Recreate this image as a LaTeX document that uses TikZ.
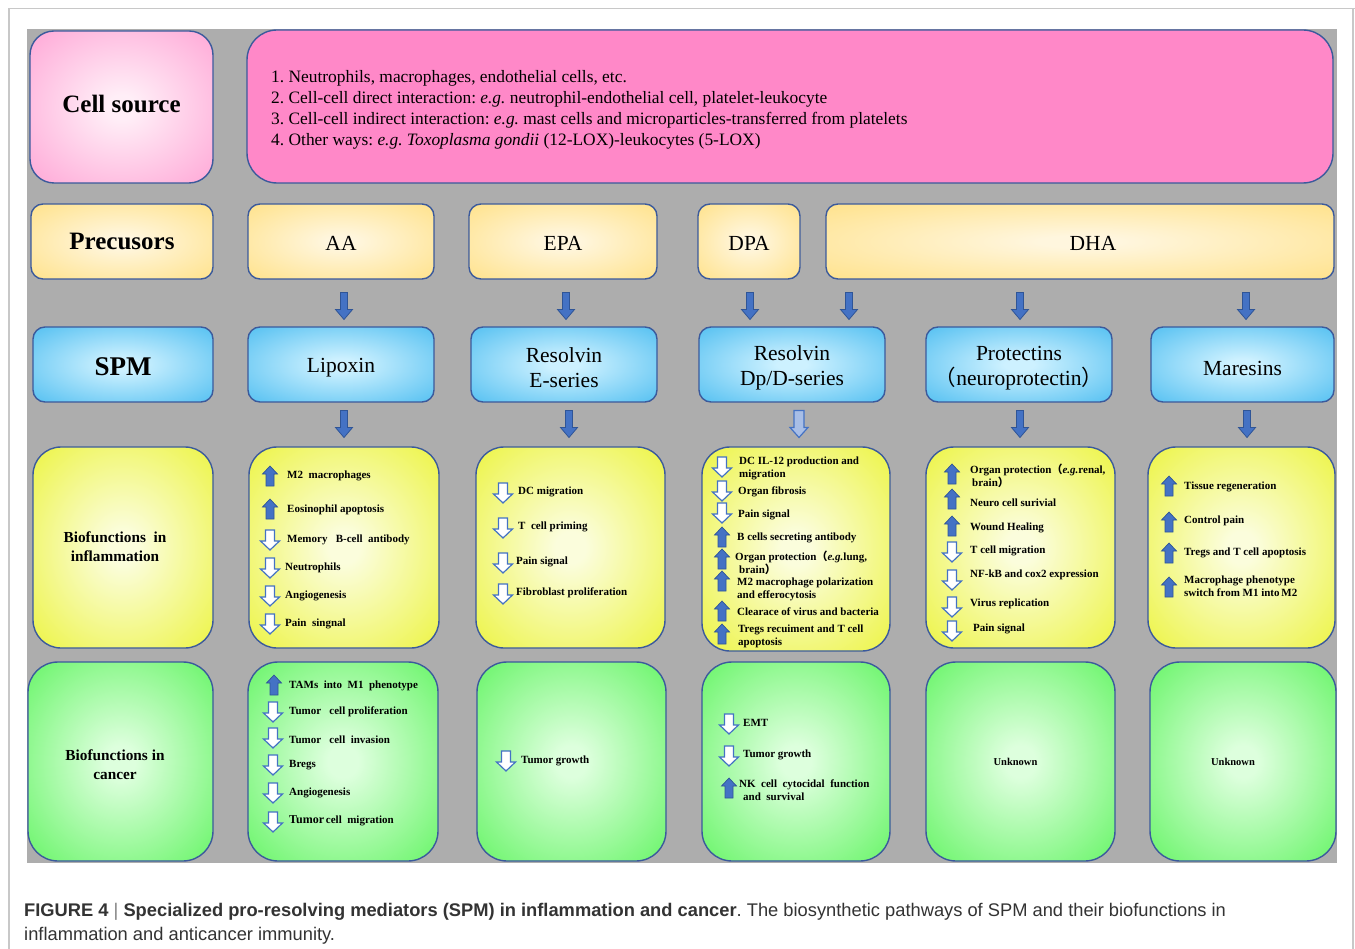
\documentclass[tikz,border=0pt]{standalone}
\usepackage{fontspec}
\setmainfont{Liberation Serif}
\newfontfamily\capfont{Liberation Sans}
\newfontfamily\cjk{Noto Sans CJK SC}
\usetikzlibrary{calc}
\frenchspacing
\definecolor{pinkE}{HTML}{FF88C8}
\definecolor{pinkC}{HTML}{FFEEF7}
\definecolor{goldE}{HTML}{FFD966}
\definecolor{goldC}{HTML}{FFF6DE}
\definecolor{blueE}{HTML}{1EAAEB}
\definecolor{blueC}{HTML}{CDF1FF}
\definecolor{yelE}{HTML}{E6F000}
\definecolor{yelC}{HTML}{FBFDDC}
\definecolor{grnE}{HTML}{34F034}
\definecolor{grnC}{HTML}{DDFFDD}
\definecolor{boxline}{HTML}{3B5A9C}
\definecolor{bggray}{HTML}{ADADAD}
\definecolor{framegray}{HTML}{C8C8C8}
\definecolor{arrblue}{HTML}{4472C4}
\definecolor{arrline}{HTML}{2F5597}
\definecolor{arrlight}{HTML}{A8BEE6}
\definecolor{captext}{HTML}{333333}
\pgfdeclareradialshading{pinkrad}{\pgfpointorigin}{color(0bp)=(pinkC); color(4bp)=(pinkC); color(50bp)=(pinkE); color(75bp)=(pinkE)}
\pgfdeclareradialshading{goldrad}{\pgfpointorigin}{color(0bp)=(goldC); color(4bp)=(goldC); color(50bp)=(goldE); color(75bp)=(goldE)}
\pgfdeclareradialshading{bluerad}{\pgfpointorigin}{color(0bp)=(blueC); color(4bp)=(blueC); color(50bp)=(blueE); color(75bp)=(blueE)}
\pgfdeclareradialshading{yelrad}{\pgfpointorigin}{color(0bp)=(yelC); color(4bp)=(yelC); color(50bp)=(yelE); color(75bp)=(yelE)}
\pgfdeclareradialshading{grnrad}{\pgfpointorigin}{color(0bp)=(grnC); color(4bp)=(grnC); color(50bp)=(grnE); color(75bp)=(grnE)}
\newcommand\fwlp{{\cjk （}}
\newcommand\fwrp{{\cjk ）}}
\newcommand\itmfont{\fontsize{11}{13}\selectfont\bfseries}
\newcommand\bstrut{\rule{0pt}{21.5pt}}
\newcommand\gstrut{\rule{0pt}{18.5pt}}
\tikzset{
  rbox/.style={draw=boxline, line width=1.4, rounded corners=#1, inner sep=0pt, outer sep=0pt, align=center},
  pinkbox/.style={rbox=24, shading=pinkrad},
  goldbox/.style={rbox=12, shading=goldrad, minimum height=75, font=\fontsize{21.5}{25}\selectfont},
  bluebox/.style={rbox=12, shading=bluerad, minimum height=75, font=\fontsize{21.5}{25}\selectfont},
  yelbox/.style={rbox=28, shading=yelrad},
  grnbox/.style={rbox=30, shading=grnrad},
  labfont/.style={font=\fontsize{25}{28}\selectfont\bfseries},
  biolab/.style={inner sep=0pt, align=center, font=\fontsize{15.3}{19}\selectfont\bfseries},
  itm/.style={anchor=west, inner sep=0pt, align=left, font=\itmfont},
  bigdn/.pic={\filldraw[draw=arrline, fill=arrblue, line width=0.8] (-3.5,-13.5)--(3.5,-13.5)--(3.5,3.5)--(8.5,3.5)--(0,13.5)--(-8.5,3.5)--(-3.5,3.5)--cycle;},
  lightdn/.pic={\filldraw[draw=arrblue, fill=arrlight, line width=1.2] (-5,-13.5)--(5,-13.5)--(5,3.5)--(9,3.5)--(0,13.5)--(-9,3.5)--(-5,3.5)--cycle;},
  upar/.pic={\filldraw[draw=arrline, fill=arrblue, line width=0.7] (-4,10)--(4,10)--(4,-2)--(7.5,-2)--(0,-10)--(-7.5,-2)--(-4,-2)--cycle;},
  dnar/.pic={\filldraw[draw=arrblue, fill=white, line width=1.2] (-4.5,-10)--(4.5,-10)--(4.5,1)--(9.5,1)--(0,10)--(-9.5,1)--(-4.5,1)--cycle;},
}
\begin{document}
\begin{tikzpicture}[x=1pt,y=-1pt]
\useasboundingbox (0,0) rectangle (1355,949);
\fill[white] (0,0) rectangle (1355,949);
\draw[framegray, line width=1.5] (9,949) -- (9,8.5) -- (1355,8.5);
\draw[framegray, line width=1.5] (1353,9) -- (1353,949);
\fill[bggray] (27,29) rectangle (1337,863);

% Row 1
\node[pinkbox, labfont, minimum width=183, minimum height=152] (cs) at (121.5,107) {\raisebox{6pt}{Cell source}};
\node[rbox=30, fill=pinkE, minimum width=1086, minimum height=153] (srcbox) at (790,106.5) {};
\node[anchor=west, inner sep=0pt, align=left, font=\fontsize{17.4}{21}\selectfont] (srclist) at (271,110)
  {1. Neutrophils, macrophages, endothelial cells, etc.\\
   2. Cell-cell direct interaction: \textit{e.g.} neutrophil-endothelial cell, platelet-leukocyte\\
   3. Cell-cell indirect interaction: \textit{e.g.} mast cells and microparticles-transferred from platelets\\
   4. Other ways: \textit{e.g. Toxoplasma gondii} (12-LOX)-leukocytes (5-LOX)};

% Row 2
\node[goldbox, labfont, minimum width=182] (pre) at (122,241.5) {Precusors};
\node[goldbox, minimum width=186] (aa) at (341,241.5) {\gstrut AA};
\node[goldbox, minimum width=188] (epa) at (563,241.5) {\gstrut EPA};
\node[goldbox, minimum width=102] (dpa) at (749,241.5) {\gstrut DPA};
\node[goldbox, minimum width=508] (dha) at (1080,241.5) {\gstrut\hspace*{26pt}DHA};

% arrows row 2 -> row 3
\pic (a1) at (344,306) {bigdn};
\pic (a2) at (566,306) {bigdn};
\pic (a3) at (750,306) {bigdn};
\pic (a4) at (849,306) {bigdn};
\pic (a5) at (1020,306) {bigdn};
\pic (a6) at (1246,306) {bigdn};

% Row 3
\node[bluebox, font=\fontsize{27}{30}\selectfont\bfseries, minimum width=180] (spm) at (123,364.5) {\rule{0pt}{22pt}SPM};
\node[bluebox, minimum width=186] (lip) at (341,364.5) {\bstrut Lipoxin};
\node[bluebox, minimum width=186] (rve) at (564,364.5) {\bstrut Resolvin\\E-series};
\node[bluebox, minimum width=186] (rvd) at (792,364.5) {\bstrut Resolvin\\Dp/D-series};
\node[bluebox, minimum width=186] (pd) at (1019,364.5) {\bstrut Protectins\\\fwlp neuroprotectin\fwrp};
\node[bluebox, minimum width=183] (mar) at (1242.5,364.5) {\bstrut Maresins};

% arrows row 3 -> row 4
\pic (b1) at (344,424) {bigdn};
\pic (b2) at (569,424) {bigdn};
\pic (b3) at (799,424) {lightdn};
\pic (b4) at (1020,424) {bigdn};
\pic (b5) at (1247,424) {bigdn};

% Row 4
\node[yelbox, minimum width=180, minimum height=201] (bil) at (123,547.5) {};
\node[biolab] (bilt) at (115,547) {Biofunctions~ in\\inflammation};
\node[yelbox, minimum width=190, minimum height=201] (lipi) at (344,547.5) {};
\node[yelbox, minimum width=189, minimum height=201] (rvei) at (570.5,547.5) {};
\node[yelbox, minimum width=188, minimum height=204] (rvdi) at (796,549) {};
\node[yelbox, minimum width=189, minimum height=201] (pdi) at (1020.5,547.5) {};
\node[yelbox, minimum width=187, minimum height=201] (mari) at (1241.5,547.5) {};

% Row 5
\node[grnbox, minimum width=185, minimum height=199] (bic) at (120.5,761.5) {};
\node[biolab] (bict) at (115,765) {Biofunctions in\\cancer};
\node[grnbox, minimum width=190, minimum height=199] (lipc) at (343,761.5) {};
\node[grnbox, minimum width=189, minimum height=199] (rvec) at (571.5,761.5) {};
\node[grnbox, minimum width=188, minimum height=199] (rvdc) at (796,761.5) {};
\node[grnbox, minimum width=189, minimum height=199, font=\fontsize{10.5}{12}\selectfont\bfseries] (pdc) at (1020.5,761.5) {\hspace*{-10pt}Unknown};
\node[grnbox, minimum width=186, minimum height=199, font=\fontsize{10.5}{12}\selectfont\bfseries] (marc) at (1243,761.5) {\hspace*{-20pt}Unknown};

% Lipoxin inflammation items
\pic (li1) at (270,476) {upar};  \node[itm] (li1t) at (287,476) {M2~ macrophages};
\pic (li2) at (270,509) {upar};  \node[itm] (li2t) at (287,510) {Eosinophil apoptosis};
\pic (li3) at (270,540) {dnar};  \node[itm] (li3t) at (287,540) {Memory~~ B-cell~ antibody};
\pic (li4) at (270,568) {dnar};  \node[itm] (li4t) at (285,568) {Neutrophils};
\pic (li5) at (270,596) {dnar};  \node[itm] (li5t) at (285,596) {Angiogenesis};
\pic (li6) at (270,624) {dnar};  \node[itm] (li6t) at (285,624) {Pain~ singnal};

% Resolvin E inflammation items
\pic (ei1) at (503,493) {dnar};  \node[itm] (ei1t) at (518,492) {DC migration};
\pic (ei2) at (503,528) {dnar};  \node[itm] (ei2t) at (518,527) {T~ cell priming};
\pic (ei3) at (503,563) {dnar};  \node[itm] (ei3t) at (516,562) {Pain signal};
\pic (ei4) at (503,594) {dnar};  \node[itm] (ei4t) at (516,593) {Fibroblast proliferation};

% Resolvin D inflammation items
\pic (di1) at (722,467) {dnar};  \node[itm] (di1t) at (739,468.5) {DC IL-12 production and\\migration};
\pic (di2) at (722,491) {dnar};  \node[itm] (di2t) at (738,492) {Organ fibrosis};
\pic (di3) at (722,513) {dnar};  \node[itm] (di3t) at (738,515) {Pain signal};
\pic (di4) at (722,537) {upar};  \node[itm] (di4t) at (737,538) {B cells secreting antibody};
\pic (di5) at (722,559) {upar};  \node[itm] (di5t) at (735,563) {Organ protection\fwlp\textit{e.g.}lung,\\\hspace*{4pt}brain\fwrp};
\pic (di6) at (722,581) {upar};  \node[itm] (di6t) at (737,589) {M2 macrophage polarization\\and efferocytosis};
\pic (di7) at (722,611) {upar};  \node[itm] (di7t) at (737,612) {Clearace of virus and bacteria};
\pic (di8) at (722,634) {upar};  \node[itm] (di8t) at (738,636) {Tregs recuiment and T cell\\apoptosis};

% Protectins inflammation items
\pic (pi1) at (952,474) {upar};  \node[itm] (pi1t) at (970,475.5) {Organ protection\fwlp\textit{e.g.}renal,\\\hspace*{2pt}brain\fwrp};
\pic (pi2) at (952,499) {upar};  \node[itm] (pi2t) at (970,503) {Neuro cell surivial};
\pic (pi3) at (952,526) {upar};  \node[itm] (pi3t) at (970,528) {Wound Healing};
\pic (pi4) at (952,552) {dnar};  \node[itm] (pi4t) at (970,551) {T cell migration};
\pic (pi5) at (952,580) {dnar};  \node[itm] (pi5t) at (970,575) {NF-kB and cox2 expression};
\pic (pi6) at (952,607) {dnar};  \node[itm] (pi6t) at (970,604) {Virus replication};
\pic (pi7) at (952,631) {dnar};  \node[itm] (pi7t) at (973,629) {Pain signal};

% Maresins inflammation items
\pic (mi1) at (1169,486) {upar};  \node[itm] (mi1t) at (1184,487) {Tissue regeneration};
\pic (mi2) at (1169,522) {upar};  \node[itm] (mi2t) at (1184,521) {Control pain};
\pic (mi3) at (1169,553) {upar};  \node[itm] (mi3t) at (1184,553) {Tregs and T cell apoptosis};
\pic (mi4) at (1169,587) {upar};  \node[itm] (mi4t) at (1184,586) {Macrophage phenotype\\switch from M1 into\,M2};

% Lipoxin cancer items
\pic (lc1) at (274,685) {upar};  \node[itm] (lc1t) at (289,686) {TAMs~ into~ M1~ phenotype};
\pic (lc2) at (273,712) {dnar};  \node[itm] (lc2t) at (289,712) {Tumor~~ cell proliferation};
\pic (lc3) at (273,738) {dnar};  \node[itm] (lc3t) at (289,740) {Tumor~~ cell~ invasion};
\pic (lc4) at (273,765) {dnar};  \node[itm] (lc4t) at (289,765) {Bregs};
\pic (lc5) at (273,793) {dnar};  \node[itm] (lc5t) at (289,793) {Angiogenesis};
\pic (lc6) at (273,822) {dnar};  \node[itm] (lc6t) at (289,821) {{\fontsize{12}{13}\selectfont Tumor}\,cell~ migration};

% Resolvin E cancer
\pic (ec1) at (506,761) {dnar};  \node[itm] (ec1t) at (521,761) {Tumor growth};

% Resolvin D cancer
\pic (dc1) at (729,724) {dnar};  \node[itm] (dc1t) at (743,723) {EMT};
\pic (dc2) at (729,756) {dnar};  \node[itm] (dc2t) at (743,755) {Tumor growth};
\pic (dc3) at (729,788) {upar};  \node[itm] (dc3t) at (739,790.5) {NK~ cell~ cytocidal~ function\\\hspace*{4pt}and~ survival};

% Caption
\node[anchor=base west, inner sep=0pt, text=captext, font=\capfont\fontsize{18.3}{24}\selectfont] (cap1) at (24,916)
  {\textbf{FIGURE 4} {\color{gray}|} \textbf{Specialized pro-resolving mediators (SPM) in inflammation and cancer}. The biosynthetic pathways of SPM and their biofunctions in};
\node[anchor=base west, inner sep=0pt, text=captext, font=\capfont\fontsize{18.3}{24}\selectfont] (cap2) at (24,940)
  {inflammation and anticancer immunity.};
\end{tikzpicture}
\end{document}
